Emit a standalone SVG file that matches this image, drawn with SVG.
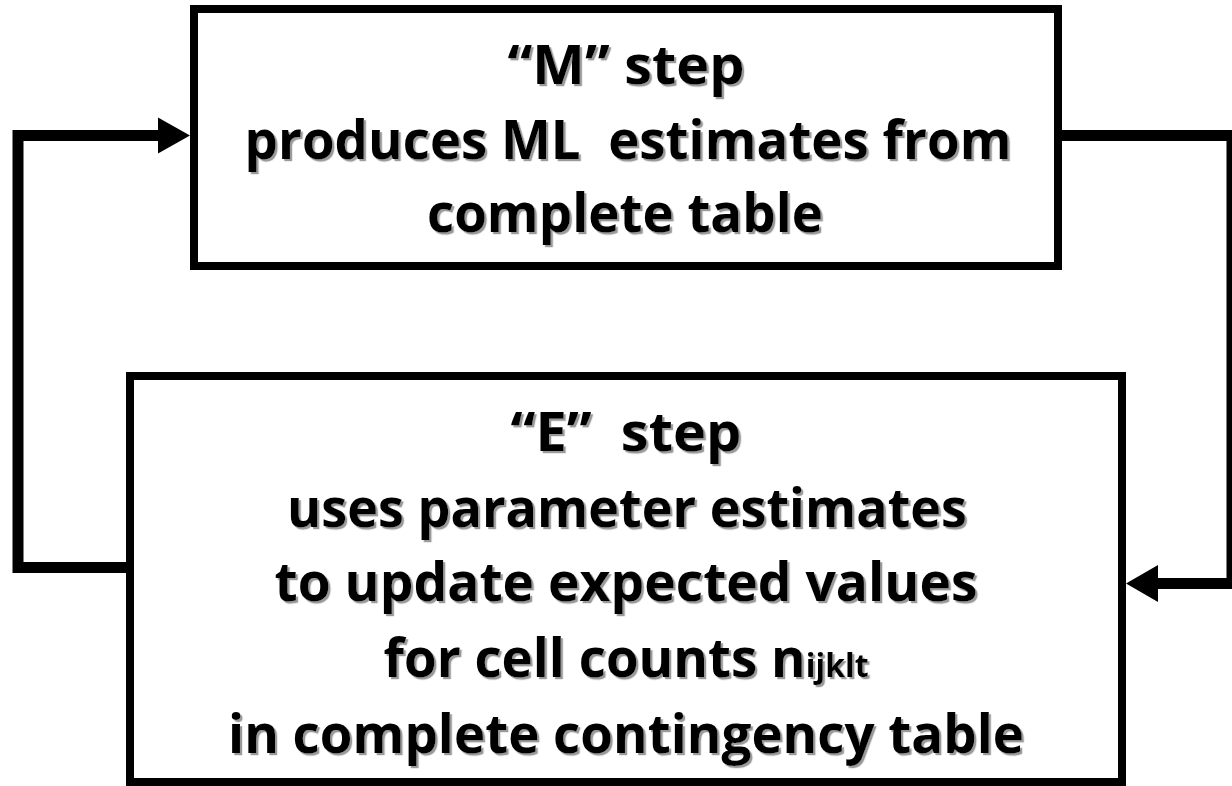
<svg xmlns="http://www.w3.org/2000/svg" width="1232" height="786" viewBox="0 0 1232 786">
<defs>
<filter id="sh" x="-5%" y="-20%" width="110%" height="150%">
<feDropShadow dx="2.2" dy="2.2" stdDeviation="0.6" flood-color="#9a9a9a" flood-opacity="1"/>
</filter>
</defs>
<style>
.box{fill:#ffffff;stroke:#000000;stroke-width:8}
.ln{fill:none;stroke:#000000;stroke-width:11;stroke-linejoin:miter;stroke-linecap:butt}
.ah{fill:#000000}
.t{font-family:"Open Sans","Noto Sans","Liberation Sans",sans-serif;font-weight:700;font-size:53px;fill:#000000;text-anchor:middle;white-space:pre}
.s{font-size:32px}
</style>
<rect width="1232" height="786" fill="#ffffff"/>
<g id="connectors">
<polyline class="ln" points="126,567.5 18,567.5 18,135.5 160,135.5"/>
<polygon class="ah" points="190,135.5 158,117.5 158,153.5"/>
<polyline class="ln" points="1062,135.5 1232,135.5 1232,583.5 1156,583.5"/>
<polygon class="ah" points="1126,583.5 1158,565 1158,602"/>
</g>
<g id="m-step">
<rect class="box" x="194" y="9" width="864" height="257"/>
<g filter="url(#sh)">
<text class="t" x="626" y="84" textLength="237" lengthAdjust="spacingAndGlyphs">“M” step</text>
<text class="t" x="628" y="159" textLength="767" lengthAdjust="spacingAndGlyphs">produces ML  estimates from</text>
<text class="t" x="625" y="232" textLength="396" lengthAdjust="spacingAndGlyphs">complete table</text>
</g>
</g>
<g id="e-step">
<rect class="box" x="130" y="376" width="992" height="406"/>
<g filter="url(#sh)">
<text class="t" x="626" y="451" textLength="231" lengthAdjust="spacingAndGlyphs">“E”  step</text>
<text class="t" x="627" y="527" textLength="680" lengthAdjust="spacingAndGlyphs">uses parameter estimates</text>
<text class="t" x="626" y="601" textLength="703" lengthAdjust="spacingAndGlyphs">to update expected values</text>
<text class="t" x="626" y="677" textLength="485" lengthAdjust="spacingAndGlyphs">for cell counts n<tspan class="s">ijklt</tspan></text>
<text class="t" x="626" y="753" textLength="796" lengthAdjust="spacingAndGlyphs">in complete contingency table</text>
</g>
</g>
</svg>
